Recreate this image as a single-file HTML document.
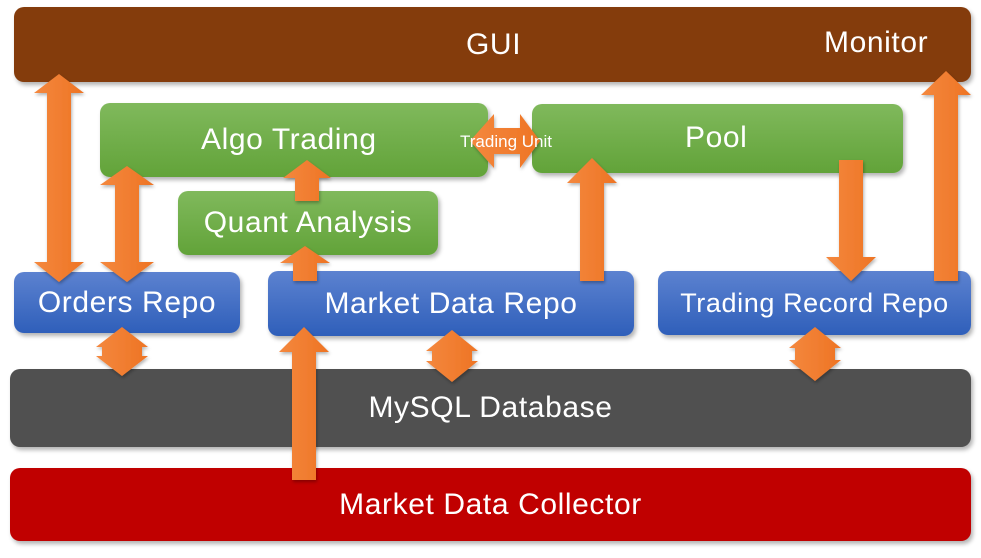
<!DOCTYPE html>
<html><head><meta charset="utf-8"><style>
html,body{margin:0;padding:0;background:#fff;width:981px;height:558px;overflow:hidden;position:relative;font-family:"Liberation Sans","Noto Sans CJK SC",sans-serif;}
.b{position:absolute;border-radius:10px;color:#fff;display:flex;align-items:center;justify-content:center;font-size:30px;letter-spacing:0.6px;box-shadow:2px 3px 4px rgba(0,0,0,0.3);}
.g{background:linear-gradient(#80b95c,#62a339);}
.bl{background:linear-gradient(#5c82d0,#2f5fba);}
svg{position:absolute;left:0;top:0;}
</style></head><body>
<div class="b" style="left:14px;top:7px;width:957px;height:75px;background:#843c0c;"><span style="position:absolute;left:452px;top:21px;">GUI</span><span style="position:absolute;left:810px;top:19px;">Monitor</span></div>
<div class="b g" style="left:100px;top:103px;width:388px;height:74px;"><span style="position:absolute;left:101px;top:20px;">Algo Trading</span></div>
<div class="b g" style="left:532px;top:104px;width:371px;height:69px;"><span style="position:absolute;left:153px;top:17px;">Pool</span></div>
<div class="b g" style="left:178px;top:191px;width:260px;height:64px;">Quant Analysis</div>
<div class="b bl" style="left:14px;top:272px;width:226px;height:61px;">Orders Repo</div>
<div class="b bl" style="left:268px;top:271px;width:366px;height:65px;">Market Data Repo</div>
<div class="b bl" style="left:658px;top:271px;width:313px;height:64px;font-size:27px;">Trading Record Repo</div>
<div class="b" style="left:10px;top:369px;width:961px;height:78px;background:#505050;">MySQL Database</div>
<div class="b" style="left:10px;top:468px;width:961px;height:73px;background:#c00000;">Market Data Collector</div>
<svg width="981" height="558" viewBox="0 0 981 558">
<defs><linearGradient id="o" x1="0" x2="1" y1="0" y2="0"><stop offset="0" stop-color="#f4883e"/><stop offset="1" stop-color="#ee7424"/></linearGradient>
<filter id="s"><feDropShadow dx="1" dy="2" stdDeviation="1.5" flood-opacity="0.3"/></filter></defs>
<g fill="url(#o)" filter="url(#s)">
<polygon points="59,74 84,93 71,93 71,262 84,262 59,282 34,262 47,262 47,93 34,93"/>
<polygon points="127,166 154,185 139,185 139,262 154,262 127,282 100,262 115,262 115,185 100,185"/>
<polygon points="307,160 331,178 319,178 319,201 295,201 295,178 283,178"/>
<polygon points="305,246 330,263 317,263 317,281 293,281 293,263 280,263"/>
<polygon points="592,158 617,183 604,183 604,281 580,281 580,183 567,183"/>
<polygon points="839,160 863,160 863,257 876,257 851,281 826,257 839,257"/>
<polygon points="946,71 971,95 958,95 958,281 934,281 934,95 921,95"/>
<polygon points="470,141 494,114 494,128 520,128 520,114 540,141 520,168 520,154 494,154 494,168"/>
<polygon points="122,327 148,347 142,347 142,356 148,356 122,376 96,356 102,356 102,347 96,347"/>
<polygon points="452,330 478,351 472,351 472,361 478,361 452,382 426,361 432,361 432,351 426,351"/>
<polygon points="815,327 841,348 835,348 835,360 841,360 815,381 789,360 795,360 795,348 789,348"/>
<polygon points="304,327 329,352 316,352 316,480 292,480 292,352 279,352"/>
</g>
<text x="506" y="147" fill="#fff" font-size="17" text-anchor="middle" font-family="Liberation Sans, sans-serif">Trading Unit</text>
</svg>
</body></html>
